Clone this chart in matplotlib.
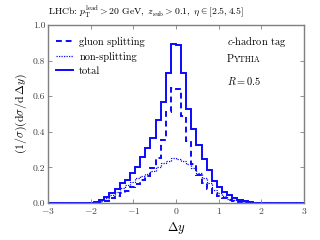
import numpy as np
import matplotlib
matplotlib.use("Agg")
import matplotlib.pyplot as plt

plt.rcParams['font.family'] = 'serif'
plt.rcParams['font.serif'] = ['cmr10']
plt.rcParams['mathtext.fontset'] = 'cm'
plt.rcParams['axes.formatter.use_mathtext'] = True

# 50 bins from -3 to 3
bin_lo, bin_hi, n_bins = -3.0, 3.0, 50

total = [0, 0, 0, 0, 0, 0, 0, 0, 0,
         0.006, 0.017, 0.036, 0.054, 0.080, 0.110, 0.129, 0.167, 0.204, 0.257, 0.307, 0.363, 0.466, 0.569, 0.729, 0.893,
         0.886, 0.732, 0.530, 0.414, 0.326, 0.245, 0.185, 0.124, 0.092, 0.064, 0.045, 0.028, 0.018, 0.010, 0.005, 0.002,
         0, 0, 0, 0, 0, 0, 0, 0, 0]
gluon = [0, 0, 0, 0, 0, 0, 0, 0, 0,
         0.0, 0.004, 0.013, 0.026, 0.039, 0.054, 0.069, 0.092, 0.107, 0.129, 0.152, 0.195, 0.251, 0.354, 0.513, 0.644,
         0.640, 0.490, 0.350, 0.220, 0.160, 0.110, 0.080, 0.055, 0.040, 0.028, 0.018, 0.010, 0.005, 0.002, 0.0, 0.0,
         0, 0, 0, 0, 0, 0, 0, 0, 0]
nonsplit = [0, 0, 0, 0, 0, 0, 0, 0, 0,
            0.004, 0.013, 0.026, 0.045, 0.064, 0.082, 0.101, 0.120, 0.139, 0.150, 0.165, 0.180, 0.205, 0.225, 0.238, 0.251,
            0.245, 0.235, 0.220, 0.195, 0.170, 0.140, 0.110, 0.075, 0.055, 0.038, 0.025, 0.015, 0.009, 0.005, 0.002, 0.0,
            0, 0, 0, 0, 0, 0, 0, 0, 0]

labels = ["gluon splitting", "non-splitting", "total"]

edges = np.linspace(bin_lo, bin_hi, n_bins + 1)
blue = '#0a0aff'
gray = '#7f7f7f'

fig = plt.figure(figsize=(3.2, 2.4), dpi=100)
ax = fig.add_axes([0.15, 0.154, 0.80, 0.742])

ax.stairs(gluon, edges, color=blue, lw=1.4, ls=(0, (3, 2)), label=labels[0])
ax.stairs(nonsplit, edges, color=blue, lw=0.9, ls=(0, (1, 1)), label=labels[1])
ax.stairs(total, edges, color=blue, lw=1.4, ls='-', label=labels[2])

ax.set_xlim(-3, 3)
ax.set_ylim(0, 1.0)
ax.set_xticks([-3, -2, -1, 0, 1, 2, 3])
ax.set_yticks([0.0, 0.2, 0.4, 0.6, 0.8, 1.0])
ax.set_yticklabels(['0.0', '0.2', '0.4', '0.6', '0.8', '1.0'])
ax.tick_params(direction='in', top=True, right=True, length=3, width=0.6,
               color=gray, labelsize=7, labelcolor='#404040', pad=2)
for s in ax.spines.values():
    s.set_color(gray)
    s.set_linewidth(1.0)

ax.set_xlabel(r'$\Delta y$', fontsize=9, labelpad=3)
ax.set_ylabel(r'$(1/\sigma)(\mathrm{d}\sigma/\mathrm{d}\,\Delta y)$', fontsize=8.5, labelpad=3)

leg = ax.legend(loc='upper left', frameon=False, fontsize=7.5, handlelength=1.6,
                handletextpad=0.6, labelspacing=0.45, borderaxespad=0.4,
                bbox_to_anchor=(0.0, 0.98))

ax.text(0.70, 0.905, r'$c$-hadron tag', transform=ax.transAxes, fontsize=7.5,
        ha='left', va='center')
tp = ax.text(0.70, 0.79, 'P', transform=ax.transAxes, fontsize=7.5,
             ha='left', va='baseline')
ax.annotate('YTHIA', xy=(1.0, 0.0), xycoords=tp, fontsize=5.8,
            ha='left', va='bottom')
ax.text(0.70, 0.685, r'$R = 0.5$', transform=ax.transAxes, fontsize=7.5,
        ha='left', va='center')

fig.text(0.15, 0.95,
         r'LHCb: $p_{\mathrm{T}}^{\mathrm{lead}} > 20\ \mathrm{GeV},\ z_{\mathrm{sub}} > 0.1,\ \eta \in [2.5, 4.5]$',
         fontsize=7, ha='left', va='center')

fig.savefig('out.png', dpi=100)
